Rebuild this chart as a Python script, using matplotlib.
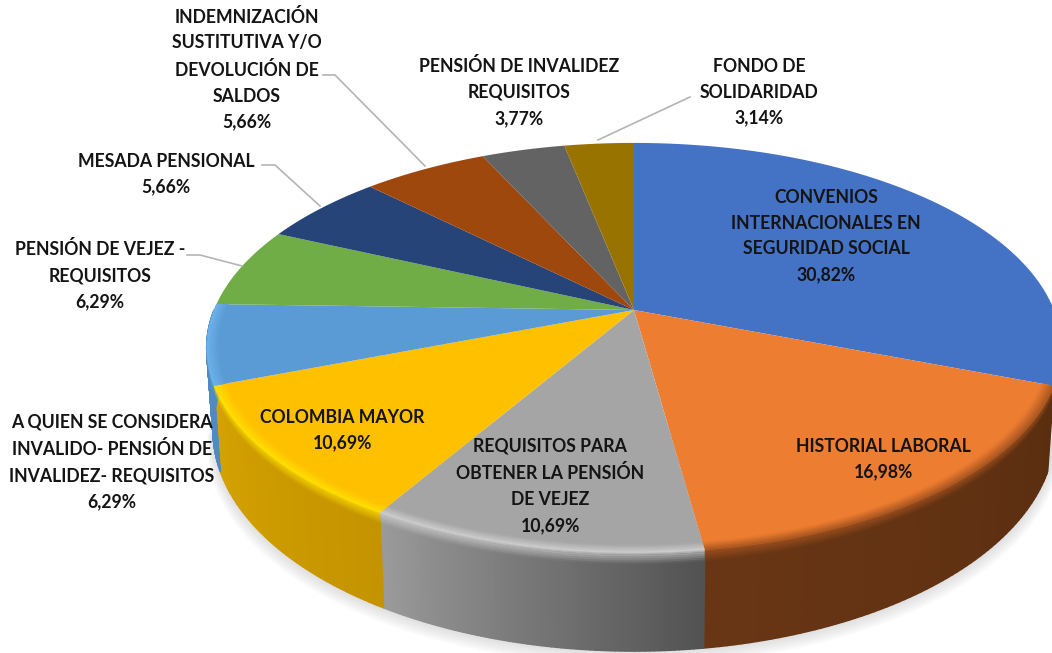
import numpy as np
import matplotlib
matplotlib.use("Agg")
from matplotlib import pyplot as plt
from matplotlib.colors import to_rgb
from matplotlib.collections import PolyCollection

# valores, en sentido horario desde arriba
categorias = ["CONVENIOS\nINTERNACIONALES EN\nSEGURIDAD SOCIAL", "HISTORIAL LABORAL",
              "REQUISITOS PARA\nOBTENER LA PENSIÓN\nDE VEJEZ", "COLOMBIA MAYOR",
              "A QUIEN SE CONSIDERA\nINVALIDO- PENSIÓN DE\nINVALIDEZ- REQUISITOS",
              "PENSIÓN DE VEJEZ -\nREQUISITOS", "MESADA PENSIONAL",
              "INDEMNIZACIÓN\nSUSTITUTIVA Y/O\nDEVOLUCIÓN DE\nSALDOS",
              "PENSIÓN DE INVALIDEZ\nREQUISITOS", "FONDO DE\nSOLIDARIDAD"]
valores = [30.82, 16.98, 10.69, 10.69, 6.29, 6.29, 5.66, 5.66, 3.77, 3.14]
colores = ["#4472C4", "#ED7D31", "#A5A5A5", "#FFC000", "#5B9BD5",
           "#70AD47", "#264478", "#9E480E", "#636363", "#997300"]
# color de la pared lateral (inicio, fin en sentido horario) de cada rebanada visible
pared = {1: ("#5a2e10", "#693615"), 2: ("#525252", "#9a9a9a"),
         3: ("#c49400", "#d4a200"), 4: ("#4f8ac2", "#4f8ac2")}
# color del bisel junto al borde
bisel = {1: "#a85520", 2: "#cfcfcf", 3: "#ffe000", 4: "#6cb2ec"}

# posicion de cada etiqueta en pixeles (centro del bloque de texto)
pos_x = [826, 883, 550, 342, 112, 100, 166, 247, 519, 759]
pos_y = [236, 459, 486, 430, 462, 275, 174, 69, 92, 92]
lineas = [[(323, 75), (335, 75), (425, 166)],
          [(262, 165), (275, 165), (320, 206)],
          [(187, 255), (200, 255), (242, 266)],
          [(598, 140), (690, 97)]]

# parametros de la perspectiva
cx, cy = 634, 310
A, B, k = 420, 198, 0.185
prof = 80


def proyecta(t, r=1.0, h=0.0):
    # t en grados horario desde arriba, r radio relativo, h bajada de la pared
    t = np.radians(t)
    u = r * np.sin(t)
    v = r * np.cos(t)
    w = 1 + k * v
    x = cx + (A * u / w) * (1 - 0.015 * h / prof)
    y = cy - B * v / w + h / w
    return np.column_stack([x, y])


def mezcla(c1, c2, f):
    return tuple((1 - f) * a + f * b for a, b in zip(to_rgb(c1), to_rgb(c2)))


fig = plt.figure(figsize=(10.52, 6.53), dpi=100)
ax = fig.add_axes([0, 0, 1, 1])
ax.set_xlim(0, 1052)
ax.set_ylim(653, 0)
ax.axis("off")

angulos = np.concatenate([[0], np.cumsum(valores) / sum(valores) * 360])

# sombra difusa debajo del pastel
arco = np.linspace(100, 262, 200)
for i in range(8):
    borde = proyecta(arco, 1.0, prof)
    borde = borde + np.column_stack([(borde[:, 0] - cx) * 0.002 * i, np.full(200, 2.0 * i)])
    ax.fill(borde[:, 0], borde[:, 1], color="#808080", alpha=0.035, lw=0, zorder=1)

# pared lateral con degradado
for i, (c1, c2) in pared.items():
    t = np.linspace(angulos[i], min(angulos[i + 1], 270), 70)
    polys, cols = [], []
    for j in range(len(t) - 1):
        arriba = proyecta(t[j:j + 2])
        abajo = proyecta(t[j:j + 2], 1.0, prof)
        polys.append(np.vstack([arriba, abajo[::-1]]))
        cols.append(mezcla(c1, c2, j / (len(t) - 2)))
    ax.add_collection(PolyCollection(polys, facecolors=cols, edgecolors=cols, lw=1.0, zorder=2))

# cara superior
for i, c in enumerate(colores):
    t = np.linspace(angulos[i], angulos[i + 1], 80)
    borde = proyecta(t)
    ax.fill(np.r_[cx, borde[:, 0]], np.r_[cy, borde[:, 1]], color=c, lw=0, zorder=3)

# bisel del borde: cara superior hacia la pared
for i, c in bisel.items():
    t = np.linspace(angulos[i], angulos[i + 1], 70)
    radios = np.linspace(0.972, 1.0, 6)
    for j in range(len(radios) - 1):
        f = (j + 0.5) / (len(radios) - 1)
        color = mezcla(colores[i], c, f)
        a = proyecta(t, radios[j])
        b = proyecta(t, radios[j + 1])
        pol = np.vstack([a, b[::-1]])
        ax.fill(pol[:, 0], pol[:, 1], color=color, lw=0.3, zorder=4)
    # transicion suave al inicio de la pared
    baja = np.linspace(0, 9, 7)
    for j in range(len(baja) - 1):
        f = (j + 0.5) / (len(baja) - 1)
        a = proyecta(t, 1.0, baja[j])
        b = proyecta(t, 1.0, baja[j + 1])
        pol = np.vstack([a, b[::-1]])
        ax.fill(pol[:, 0], pol[:, 1], color=c, alpha=(1 - f) * 0.8, lw=0, zorder=4)

# lineas guia
for ln in lineas:
    xs, ys = zip(*ln)
    ax.plot(xs, ys, color="#b4b4b4", lw=1.2, zorder=5)

# etiquetas
for nombre, v, x, y in zip(categorias, valores, pos_x, pos_y):
    txt = nombre + "\n" + f"{v:.2f}".replace(".", ",") + "%"
    ax.text(x, y, txt, ha="center", va="center", fontsize=12.7, family="Lato",
            fontweight="bold", color="#141414", linespacing=1.63, zorder=6)

fig.savefig("out.png", dpi=100)
